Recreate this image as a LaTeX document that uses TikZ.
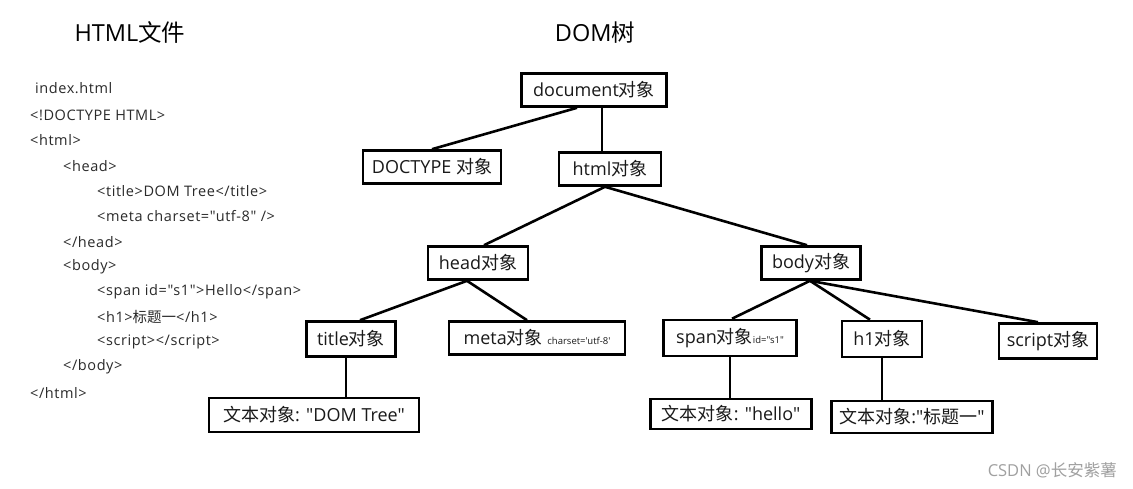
\documentclass[tikz,border=0pt]{standalone}
\usepackage{fontspec}
\setmainfont{Open Sans}[Ligatures=TeXOff]
\newfontfamily\codefont{Open Sans}[LetterSpace=4,Ligatures=TeXOff]
\newfontfamily\cjk{Noto Sans CJK SC}[Ligatures=TeXOff]
\usetikzlibrary{calc}
\definecolor{txt}{HTML}{1A1A1A}
\definecolor{code}{HTML}{2A2A2A}
\definecolor{wm}{HTML}{A0A0A0}
\begin{document}
\begin{tikzpicture}[x=1pt,y=-1pt,
  box/.style={draw=black,line width=2.6pt,inner sep=0pt,minimum height=33pt,
    font=\fontsize{18}{20}\selectfont,text=txt,fill=white},
  link/.style={line width=2.6pt,draw=black},
  codeline/.style={anchor=west,inner sep=0pt,font=\codefont\fontsize{14.5}{16}\selectfont,text=code},
  heading/.style={inner sep=0pt,font=\fontsize{23.5}{26}\selectfont,text=black}]
\useasboundingbox (0,0) rectangle (1133,489);
\fill[white] (0,0) rectangle (1133,489);

% headings
\node[heading] (h1t) at (130,32) {HTML{\cjk 文件}};
\node[heading] (h2t) at (595,33) {DOM{\cjk 树}};

% code
\node[codeline] (c1) at (35,88) {index.html};
\node[codeline] (c2) at (30,115) {<!DOCTYPE HTML>};
\node[codeline] (c3) at (30,140) {<html>};
\node[codeline] (c4) at (63,166) {<head>};
\node[codeline] (c5) at (97,191) {<title>DOM Tree</title>};
\node[codeline] (c6) at (97,216) {<meta charset="utf-8" />};
\node[codeline] (c7) at (63,242) {</head>};
\node[codeline] (c8) at (63,267) {<body>};
\node[codeline] (c9) at (97,292) {<span id="s1">Hello</span>};
\node[codeline] (c10) at (97,317) {<h1>{\cjk 标题一}</h1>};
\node[codeline] (c11) at (97,342) {<script></script>};
\node[codeline] (c12) at (63,367) {</body>};
\node[codeline] (c13) at (30,393) {</html>};

% tree nodes
\node[box,minimum width=145pt] (doc) at (594,90) {document{\cjk 对象}};
\node[box,minimum width=138pt] (doctype) at (432,167) {DOCTYPE {\cjk 对象}};
\node[box,minimum width=102pt] (html) at (610,169) {html{\cjk 对象}};
\node[box,minimum width=100pt] (head) at (478,263) {head{\cjk 对象}};
\node[box,minimum width=99pt] (body) at (811,263) {body{\cjk 对象}};
\node[box,minimum width=89pt,minimum height=35pt] (title) at (351,339) {title{\cjk 对象}};
\node[box,minimum width=176pt] (meta) at (537,338) {meta{\cjk 对象} {\fontsize{9.5}{10}\selectfont charset='utf-8'}};
\node[box,minimum width=133pt,minimum height=36pt] (span) at (730,338) {span{\cjk 对象}{\fontsize{9.5}{10}\selectfont id="s1"}};
\node[box,minimum width=80pt,minimum height=36pt] (h1) at (882,339) {h1{\cjk 对象}};
\node[box,minimum width=98pt,minimum height=35pt] (script) at (1048,341) {script{\cjk 对象}};
\node[box,minimum width=210pt,minimum height=34pt] (tdom) at (314,415) {{\cjk 文本对象}: "DOM Tree"};
\node[box,minimum width=161pt,minimum height=30pt] (thello) at (731,414) {{\cjk 文本对象}: "hello"};
\node[box,minimum width=161pt,minimum height=32pt] (tbt) at (912,417) {{\cjk 文本对象}:"{\cjk 标题一}"};

% connectors
\draw[link] ([xshift=-17pt]doc.south) -- (doctype.north);
\draw[link] ([xshift=8pt]doc.south) -- ([xshift=-8pt]html.north);
\draw[link] ([xshift=-5pt]html.south) -- ([xshift=6pt]head.north);
\draw[link] ([xshift=-5pt]html.south) -- ([xshift=-4pt]body.north);
\draw[link] ([xshift=-11pt]head.south) -- ([xshift=9pt]title.north);
\draw[link] ([xshift=-11pt]head.south) -- ([xshift=-10pt]meta.north);
\draw[link] ([xshift=-5pt]title.south) -- ([xshift=32pt]tdom.north);
\draw[link] ([xshift=-1pt]body.south) -- ([xshift=2pt]span.north);
\draw[link] ([xshift=-1pt]body.south) -- ([xshift=-12pt]h1.north);
\draw[link] ([xshift=-1pt]body.south) -- ([xshift=-10pt]script.north);
\draw[link] (span.south) -- ([xshift=-1pt]thello.north);
\draw[link] (h1.south) -- ([xshift=-30pt]tbt.north);

% watermark
\node[inner sep=0pt,anchor=east,text=wm,font=\fontsize{16.5}{18}\selectfont] (wmk) at (1117,470) {CSDN @{\cjk 长安紫薯}};
\end{tikzpicture}
\end{document}
